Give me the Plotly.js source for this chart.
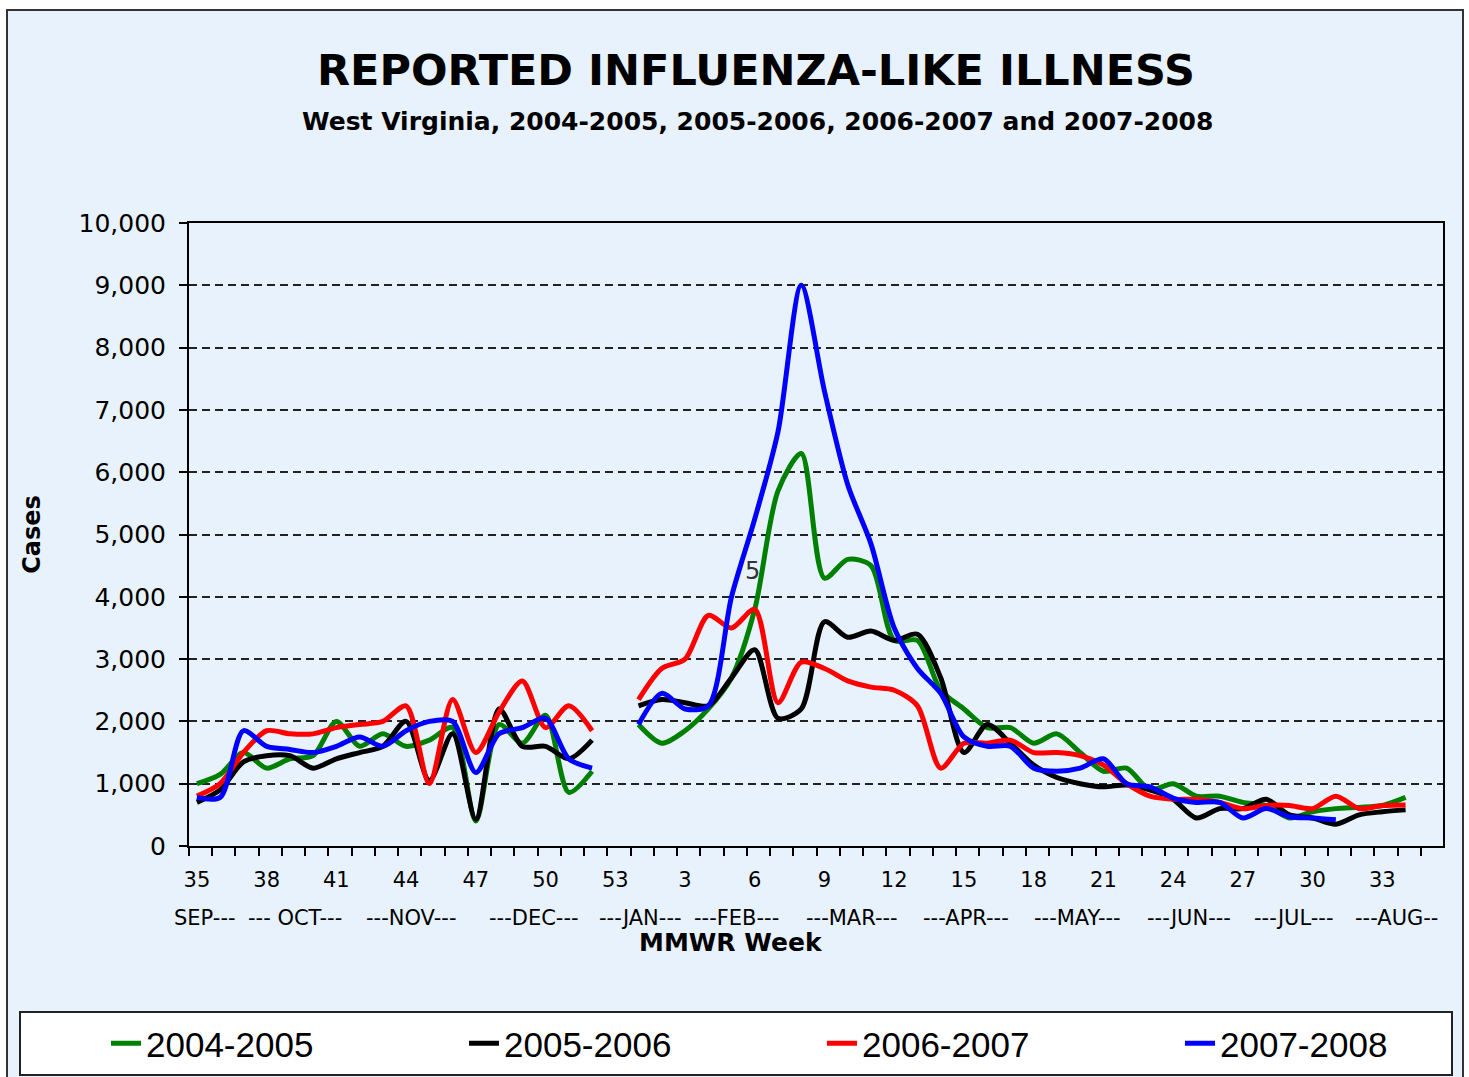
<!DOCTYPE html>
<html>
<head>
<meta charset="utf-8">
<script src="https://cdn.plot.ly/plotly-3.0.1.min.js"></script>
<style>
  html, body { margin: 0; padding: 0; background: #fff; }
  #plot { width: 1469px; height: 1077px; }
</style>
</head>
<body>
<div id="plot"></div>
<script>
// MMWR weeks, Sept (35) through Aug (34)
var weeks = [35,36,37,38,39,40,41,42,43,44,45,46,47,48,49,50,51,52,53,
             1,2,3,4,5,6,7,8,9,10,11,12,13,14,15,16,17,18,19,20,21,22,23,24,25,26,27,28,29,30,31,32,33,34];

var s0405 = [1000,1150,1500,1250,1400,1450,2000,1600,1800,1600,1700,1900,400,1950,1650,2100,860,1200,null,
             1950,1650,1850,2200,2700,3800,5700,6300,4300,4600,4500,3300,3300,2500,2200,1900,1900,1650,1800,
             1500,1200,1250,900,1000,800,800,700,650,450,550,600,620,650,780];
var s0506 = [700,900,1350,1450,1450,1250,1400,1500,1600,2000,1050,1800,430,2200,1600,1600,1400,1700,null,
             2250,2350,2300,2250,2700,3150,2050,2200,3600,3350,3450,3300,3400,2700,1500,1950,1650,1300,1100,
             1000,950,980,900,750,450,600,600,750,500,450,350,500,550,580];
var s0607 = [800,1000,1500,1850,1800,1800,1900,1950,2000,2250,1000,2350,1500,2150,2650,1900,2250,1850,null,
             2350,2850,3000,3700,3500,3800,2300,2950,2850,2650,2550,2500,2250,1250,1650,1650,1700,1500,1500,
             1450,1300,1000,800,750,750,700,600,650,650,600,800,600,650,660];
var s0708 = [780,780,1850,1600,1550,1500,1600,1750,1600,1850,2000,2000,1180,1800,1900,2050,1400,1250,null,
             1950,2450,2200,2250,4000,5250,6650,9000,7300,5800,4850,3500,2850,2450,1750,1600,1600,1250,1200,
             1250,1400,1000,950,770,700,700,450,600,470,450,420,null,null,null];

var seasons = ['2004-2005','2005-2006','2006-2007','2007-2008'];
var colors = ['#008000','#000000','#ff0000','#0000ff'];
var series = [s0405, s0506, s0607, s0708];

var months = ['SEP---','--- OCT---','---NOV---','---DEC---','---JAN---','---FEB---',
              '---MAR---','---APR---','---MAY---','---JUN---','---JUL---','---AUG--'];
var monthAt = [0.35,4.2,9.2,14.5,19.1,23.2,28.2,33.1,37.9,42.7,47.2,51.6];

var idx = weeks.map(function(w, i) { return i; });

var data = series.map(function(s, k) {
  return {
    x: idx,
    y: s,
    type: 'scatter',
    mode: 'lines',
    name: seasons[k],
    connectgaps: false,
    line: {color: colors[k], width: 5, shape: 'spline', smoothing: 0.8}
  };
});

var tickIdx = idx.filter(function(i) { return i % 3 === 0; });
var tickTxt = tickIdx.map(function(i) { return String(weeks[i]); });

// pixel helpers for the paper coordinates (plot area 189..1443 x 223..846)
function px(x) { return (x - 189) / 1254; }
function py(y) { return (846 - y) / 623; }

var annotations = months.map(function(m, i) {
  return {
    text: m, x: monthAt[i], xref: 'x', y: py(918), yref: 'paper',
    showarrow: false, xanchor: 'center', yanchor: 'middle',
    font: {family: 'DejaVu Sans', size: 21, color: '#000'}
  };
});
annotations.push({
  text: '<b>West Virginia, 2004-2005, 2005-2006, 2006-2007 and 2007-2008</b>',
  x: px(757), xref: 'paper', xanchor: 'center',
  y: py(122), yref: 'paper', yanchor: 'middle',
  showarrow: false, font: {family: 'DejaVu Sans', size: 25, color: '#000'}
});
annotations.push({
  text: '<b>MMWR Week</b>',
  x: px(731), xref: 'paper', xanchor: 'center',
  y: py(942), yref: 'paper', yanchor: 'middle',
  showarrow: false, font: {family: 'DejaVu Sans', size: 25, color: '#000'}
});
annotations.push({
  text: '5', x: 23.9, xref: 'x', y: 4420, yref: 'y', showarrow: false,
  font: {family: 'DejaVu Sans', size: 24, color: '#333'}
});

var layout = {
  width: 1469,
  height: 1077,
  margin: {l: 189, r: 26, t: 223, b: 231, autoexpand: false},
  paper_bgcolor: '#ffffff',
  plot_bgcolor: 'rgba(0,0,0,0)',
  title: {
    text: '<b>REPORTED INFLUENZA-LIKE ILLNESS</b>',
    x: 756 / 1469, xanchor: 'center', xref: 'container',
    y: 1 - 70 / 1077, yanchor: 'middle', yref: 'container',
    font: {family: 'DejaVu Sans', size: 43, color: '#000'}
  },
  xaxis: {
    range: [-0.34, 53.61],
    tickmode: 'array',
    tickvals: tickIdx,
    ticktext: tickTxt,
    ticks: '',
    ticklabelstandoff: 14,
    showgrid: false,
    zeroline: false,
    showline: true, linecolor: '#000', linewidth: 2, mirror: true,
    tickfont: {family: 'DejaVu Sans', size: 21, color: '#000'},
    minor: {tickmode: 'linear', tick0: -0.34, dtick: 1, ticks: 'outside', ticklen: 8,
            tickwidth: 2, tickcolor: '#000', showgrid: false}
  },
  yaxis: {
    range: [0, 10000],
    dtick: 1000,
    tickformat: ',d',
    ticks: 'outside', ticklen: 8, tickwidth: 2, tickcolor: '#000',
    ticklabelstandoff: 8,
    showline: true, linecolor: '#000', linewidth: 2, mirror: true,
    showgrid: true, gridcolor: '#222', gridwidth: 2, griddash: '8px,5px',
    zeroline: false,
    tickfont: {family: 'DejaVu Sans', size: 25, color: '#000'},
    title: {text: '<b>Cases</b>', standoff: 31,
            font: {family: 'DejaVu Sans', size: 24, color: '#000'}}
  },
  showlegend: true,
  legend: {
    orientation: 'h',
    x: px(106), xanchor: 'left',
    y: py(1014), yanchor: 'top',
    bgcolor: 'rgba(0,0,0,0)', borderwidth: 0,
    font: {family: 'Liberation Sans', size: 35, color: '#000'},
    entrywidth: 313, entrywidthmode: 'pixels',
    traceorder: 'normal'
  },
  shapes: [{
    type: 'rect', xref: 'paper', yref: 'paper', layer: 'below',
    x0: px(7), x1: px(1463), y0: py(1090), y1: py(10),
    fillcolor: '#e8f2fc', line: {color: '#333', width: 2}
  }, {
    type: 'rect', xref: 'paper', yref: 'paper', layer: 'below',
    x0: px(20), x1: px(1452), y0: py(1075), y1: py(1012),
    fillcolor: '#ffffff', line: {color: '#222', width: 2}
  }],
  annotations: annotations
};

Plotly.newPlot('plot', data, layout, {displayModeBar: false});
</script>
</body>
</html>
